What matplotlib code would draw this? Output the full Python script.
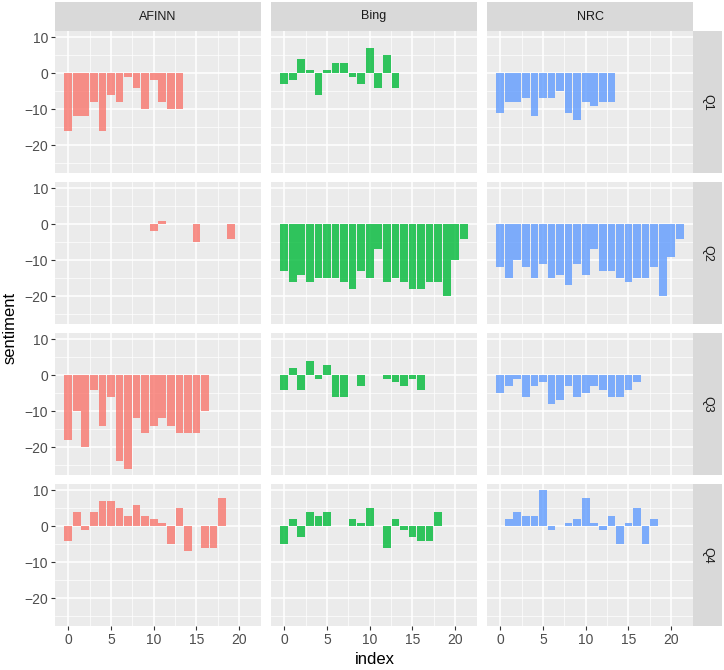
import matplotlib
matplotlib.use("Agg")
import matplotlib.pyplot as plt
import numpy as np

lexicons = ["AFINN", "Bing", "NRC"]
quarters = ["Q1", "Q2", "Q3", "Q4"]
colors = {"AFINN": "#F8766D", "Bing": "#00BA38", "NRC": "#619CFF"}

# values indexed from 0; None = no bar
afinn_q1 = [-16, -12, -12, -8, -16, -6, -8, -1, -4, -10, -2, -8, -10, -10]
bing_q1 = [-3, -2, 4, 1, -6, 1, 3, 3, -1, -3, 7, -4, 5, -4]
nrc_q1 = [-11, -8, -8, -7, -12, -7, -7, -5, -11, -13, -8, -9, -8, -8]

afinn_q2 = [None] * 10 + [-2, 1, None, None, None, -5, None, None, None, -4]
bing_q2 = [-13, -16, -14, -16, -15, -15, -15, -16, -18, -13, -15, -7, -16, -15,
           -16, -18, -18, -16, -16, -20, -10, -4]
nrc_q2 = [-12, -15, -10, -12, -15, -11, -15, -14, -17, -11, -14, -7, -13, -13,
          -15, -16, -15, -15, -12, -20, -9, -4]

afinn_q3 = [-18, -10, -20, -4, -14, -6, -24, -26, -12, -16, -14, -12, -14, -16,
            -16, -16, -10]
bing_q3 = [-4, 2, -4, 4, -1, 3, -6, -6, None, -3, None, None, -1, -2, -3, -1, -4]
nrc_q3 = [-5, -3, -1, -6, -3, -2, -8, -7, -3, -6, -5, -3, -4, -6, -6, -4, -2]

afinn_q4 = [-4, 4, -1, 4, 7, 7, 5, 3, 6, 3, 2, 1, -5, 5, -7, None, -6, -6, 8]
bing_q4 = [-5, 2, -3, 4, 3, 4, None, None, 2, 1, 5, None, -6, 2, -1, -3, -4, -4, 4]
nrc_q4 = [None, 2, 4, 3, 3, 10, -1, None, 1, 2, 8, 1, -1, 3, -5, 1, 5, -5, 2]

data = {
    ("Q1", "AFINN"): afinn_q1, ("Q1", "Bing"): bing_q1, ("Q1", "NRC"): nrc_q1,
    ("Q2", "AFINN"): afinn_q2, ("Q2", "Bing"): bing_q2, ("Q2", "NRC"): nrc_q2,
    ("Q3", "AFINN"): afinn_q3, ("Q3", "Bing"): bing_q3, ("Q3", "NRC"): nrc_q3,
    ("Q4", "AFINN"): afinn_q4, ("Q4", "Bing"): bing_q4, ("Q4", "NRC"): nrc_q4,
}

plt.rcParams['font.family'] = ['Liberation Sans', 'DejaVu Sans']

W, H = 724, 670
fig = plt.figure(figsize=(W / 100, H / 100), dpi=100)

col_x = [55, 271, 487]
pw = 206
row_y = [31, 182, 333, 484]
ph = 142
strip_h = 29
strip_w = 29

def fx(px):
    return px / W

def fy(py):
    return 1 - py / H

for r, q in enumerate(quarters):
    for c, lex in enumerate(lexicons):
        ax = fig.add_axes([fx(col_x[c]), fy(row_y[r] + ph), fx(pw), ph / H])
        ax.set_facecolor("#EBEBEB")
        vals = data[(q, lex)]
        idx = [i for i, v in enumerate(vals) if v is not None]
        v = [vals[i] for i in idx]
        ax.bar(idx, v, width=0.9, color=colors[lex], alpha=0.8, zorder=3,
               linewidth=0)
        ax.set_xlim(-1.55, 22.55)
        ax.set_ylim(-27.8, 11.8)
        ax.set_xticks([0, 5, 10, 15, 20])
        ax.set_xticks([2.5, 7.5, 12.5, 17.5, 22.5], minor=True)
        ax.set_yticks([-20, -10, 0, 10])
        ax.set_yticks([-25, -15, -5, 5], minor=True)
        ax.grid(which="major", color="white", linewidth=1.1, zorder=0)
        ax.grid(which="minor", color="white", linewidth=0.5, zorder=0)
        ax.set_axisbelow(True)
        for s in ax.spines.values():
            s.set_visible(False)
        ax.tick_params(which="minor", length=0)
        ax.tick_params(which="major", length=3, color="#333333",
                       labelcolor="#4D4D4D", labelsize=10, width=0.8, pad=2)
        if c != 0:
            ax.tick_params(axis="y", left=False, labelleft=False)
        if r != 3:
            ax.tick_params(axis="x", bottom=False, labelbottom=False)
        # top strips
        if r == 0:
            sax = fig.add_axes([fx(col_x[c]), fy(row_y[0]), fx(pw), strip_h / H])
            sax.set_facecolor("#D9D9D9")
            sax.set_xticks([]); sax.set_yticks([])
            for s in sax.spines.values():
                s.set_visible(False)
            sax.text(0.5, 0.5, lex, ha="center", va="center", fontsize=9,
                     color="#1A1A1A", transform=sax.transAxes)
    # right strips
    sax = fig.add_axes([fx(col_x[2] + pw), fy(row_y[r] + ph), fx(strip_w), ph / H])
    sax.set_facecolor("#D9D9D9")
    sax.set_xticks([]); sax.set_yticks([])
    for s in sax.spines.values():
        s.set_visible(False)
    sax.text(0.5, 0.5, q, ha="center", va="center", fontsize=9, rotation=-90,
             color="#1A1A1A", transform=sax.transAxes)

fig.text(fx(375), fy(660), "index", ha="center", va="center", fontsize=12,
         color="black")
fig.text(fx(10), fy(328), "sentiment", ha="center", va="center", fontsize=12,
         rotation=90, color="black")

fig.savefig("out.png", dpi=100, facecolor="white")
